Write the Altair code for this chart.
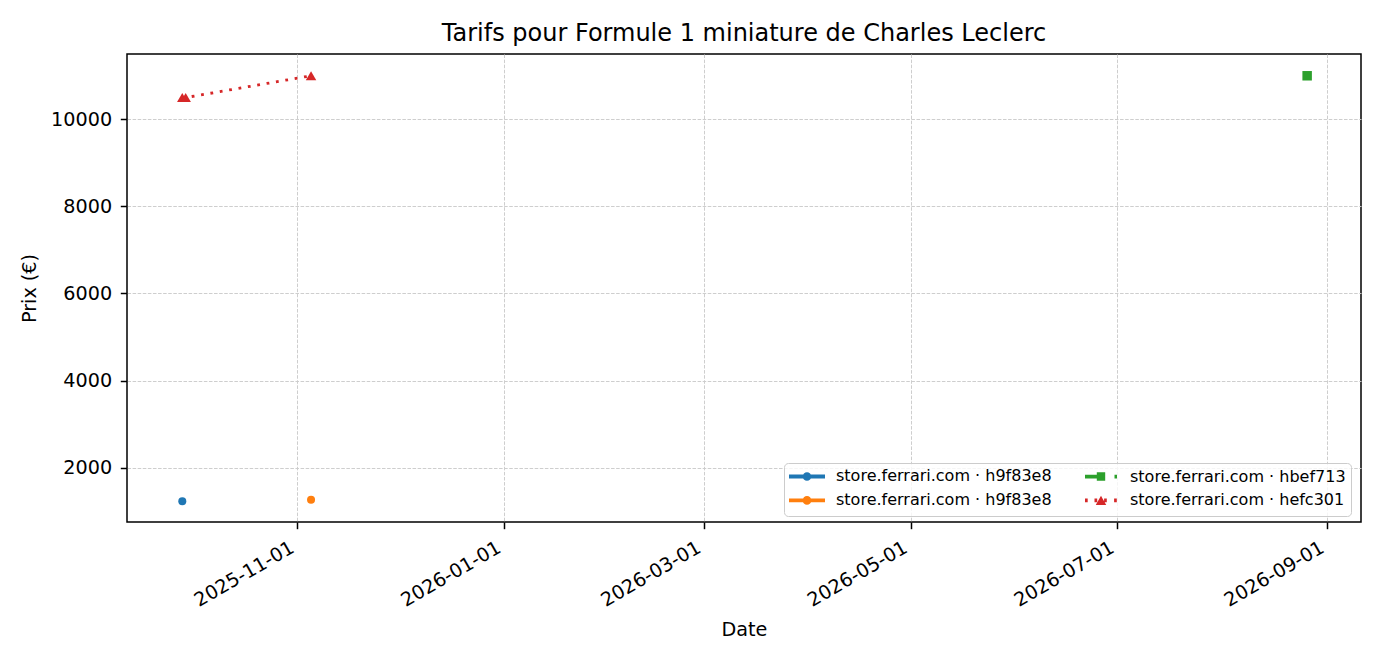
import altair as alt
import pandas as pd

# ---------------- data ----------------
series_ids = ["s1", "s2", "s3", "s4"]
series_labels = [
    "store.ferrari.com · h9f83e8",
    "store.ferrari.com · h9f83e8",
    "store.ferrari.com · hbef713",
    "store.ferrari.com · hefc301",
]
series_dates = [
    ["2025-09-28"],
    ["2025-11-05"],
    ["2026-08-26"],
    ["2025-09-28", "2025-09-29", "2025-11-05"],
]
series_prices = [
    [1230],
    [1265],
    [11000],
    [10500, 10500, 11000],
]

x_ticks = ["2025-11-01", "2026-01-01", "2026-03-01", "2026-05-01", "2026-07-01", "2026-09-01"]
y_ticks = [2000, 4000, 6000, 8000, 10000]

chart_title = "Tarifs pour Formule 1 miniature de Charles Leclerc"
x_title = "Date"
y_title = "Prix (€)"

# ---------------- styles ----------------
colors = ["#1f77b4", "#ff7f0e", "#2ca02c", "#d62728"]
markers = ["circle", "circle", "square", "triangle-up"]
marker_sizes = [64, 64, 90, 110]
line_dashes = [None, None, [14.2, 6.1], [2.8, 6.7]]
FONT = "DejaVu Sans"

# legend handle glyphs (line + marker), in pixels around the symbol centre
solid_circle = ("M-8,0L28,0"
                "M7.55,0A2.45,2.45 0 1,1 12.45,0A2.45,2.45 0 1,1 7.55,0Z")
dashed_square = ("M-6,0L7,0"
                 "M7.7,-2.3L12.3,-2.3L12.3,2.3L7.7,2.3Z"
                 "M9,0L11,0M23.5,0L26,0")
dotted_triangle = ("M-6,0L-3.3,0M3.5,0L6.2,0M13.1,0L15.8,0M23.1,0L25.8,0"
                   "M10,-0.76L11.95,2.63L8.05,2.63Z")
handle_paths = [solid_circle, solid_circle, dashed_square, dotted_triangle]

# ---------------- table ----------------
rows = []
for sid, ds, ps in zip(series_ids, series_dates, series_prices):
    for d, p in zip(ds, ps):
        rows.append({"series": sid, "date": d, "price": p})
df = pd.DataFrame(rows)


def dt(s, hours=0, minutes=0):
    y, m, d = (int(v) for v in s.split("-"))
    return alt.DateTime(year=y, month=m, date=d, hours=hours, minutes=minutes, utc=True)


x_enc = alt.X(
    "date:T",
    scale=alt.Scale(type="utc", domain=[dt("2025-09-11", 16, 20), dt("2026-09-10", 21, 30)]),
    axis=alt.Axis(
        values=[dt(t) for t in x_ticks],
        format="%Y-%m-%d",
        labelAngle=330,
        labelAlign="right",
        labelBaseline="alphabetic",
        labelOffset=-2.3,
        labelPadding=22.2,
        labelFlush=False,
        labelOverlap=False,
        title=x_title,
        titlePadding=10,
        grid=True,
        domain=False,
    ),
)
y_enc = alt.Y(
    "price:Q",
    scale=alt.Scale(domain=[752, 11500], nice=False, zero=False),
    axis=alt.Axis(
        values=y_ticks,
        format="d",
        labelPadding=8.7,
        title=y_title,
        titlePadding=11,
        grid=True,
        domain=False,
    ),
)

base = alt.Chart(df)
layers = []
for i, sid in enumerate(series_ids):
    sub = base.transform_filter(alt.datum.series == sid)
    line_kwargs = dict(color=colors[i], strokeWidth=2.8)
    if line_dashes[i]:
        line_kwargs["strokeDash"] = line_dashes[i]
    layers.append(sub.mark_line(**line_kwargs).encode(x=x_enc, y=y_enc))
    layers.append(
        sub.mark_point(shape=markers[i], size=marker_sizes[i], filled=True,
                       color=colors[i], opacity=1, strokeWidth=0).encode(x=x_enc, y=y_enc)
    )

# legend: Vega fills the two columns top-to-bottom, like matplotlib
label_expr = " : ".join(
    f"datum.label == '{sid}' ? '{lab}'" for sid, lab in zip(series_ids, series_labels)
) + " : ''"

legend = alt.Legend(
    title=None,
    orient="none",
    legendX=657,
    legendY=409,
    padding=5,
    columns=2,
    columnPadding=25,
    rowPadding=2.4,
    symbolSize=4,
    symbolStrokeWidth=3.8,
    symbolOffset=0,
    symbolOpacity=1,
    labelOffset=31,
    labelFontSize=16,
    labelFont=FONT,
    labelColor="black",
    labelLimit=0,
    labelBaseline="middle",
    labelExpr=label_expr,
    fillColor="rgba(255,255,255,0.8)",
    strokeColor="#cccccc",
    cornerRadius=4,
)

legend_layer = (
    base.transform_filter("false")
    .mark_point(filled=False, opacity=1, strokeWidth=3.8)
    .encode(
        color=alt.Color("series:N", scale=alt.Scale(domain=series_ids, range=colors), legend=legend),
        shape=alt.Shape("series:N", scale=alt.Scale(domain=series_ids, range=handle_paths), legend=legend),
    )
)

chart = (
    alt.layer(*layers, legend_layer)
    .properties(
        width=1234,
        height=468,
        title=alt.TitleParams(
            chart_title, font=FONT, fontSize=24, fontWeight="normal", color="black",
            anchor="middle", baseline="alphabetic", offset=11.5, dy=22,
        ),
        autosize=alt.AutoSizeParams(type="none"),
        padding={"left": 119, "top": 46, "right": 13, "bottom": 124},
        background="white",
    )
    .configure_view(stroke="black", strokeWidth=1.5)
    .configure_axis(
        labelFont=FONT,
        labelFontSize=19.2,
        labelColor="black",
        titleFont=FONT,
        titleFontSize=19.2,
        titleFontWeight="normal",
        titleColor="black",
        tickColor="black",
        tickSize=6.7,
        tickWidth=1.5,
        gridColor="#cccccc",
        gridWidth=0.96,
        gridDash=[3.55, 1.54],
    )
)

chart.save("out.html", embed_options={"renderer": "svg", "actions": False})
